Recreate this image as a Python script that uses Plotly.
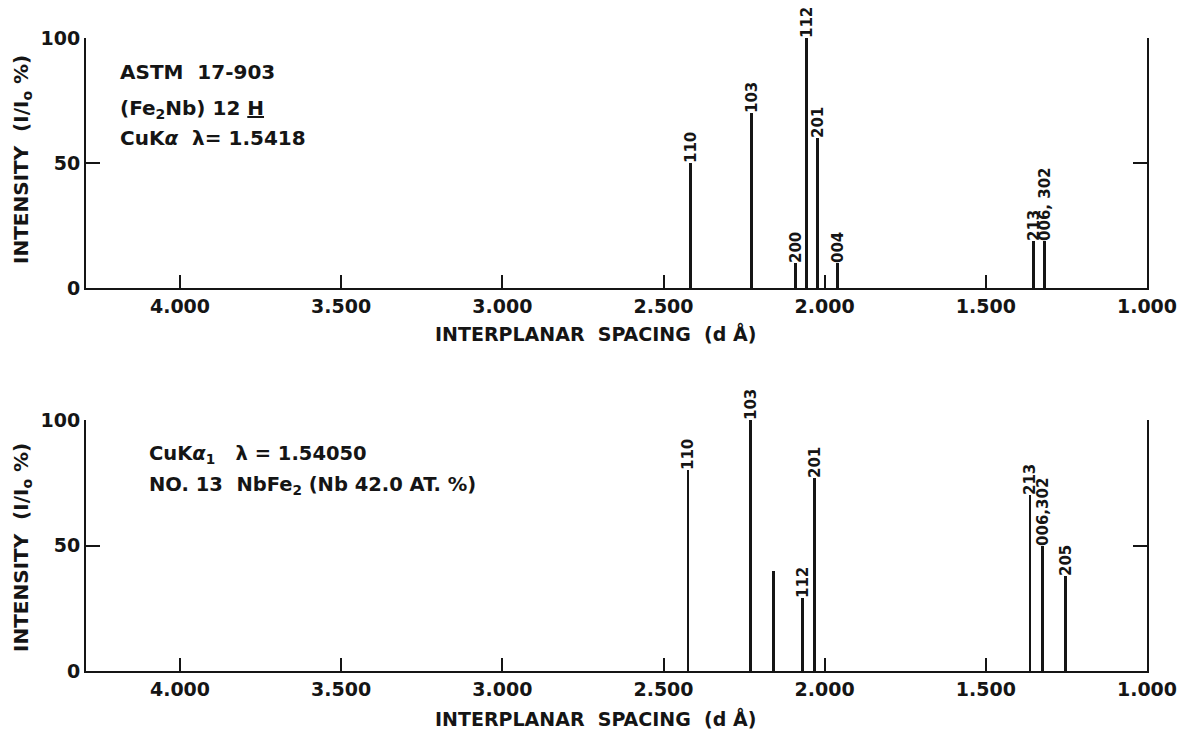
import plotly.graph_objects as go

# ---------------- data ----------------
top_d = [2.416, 2.226, 2.090, 2.056, 2.022, 1.960, 1.353, 1.317]
top_i = [50, 70, 10, 100, 60, 10, 19, 19]
top_lab = ["110", "103", "200", "112", "201", "004", "213", "006, 302"]

bot_d = [2.424, 2.231, 2.160, 2.070, 2.031, 1.363, 1.325, 1.252]
bot_i = [80, 100, 40, 29, 77, 70, 50, 38]
bot_lab = ["110", "103", "", "112", "201", "213", "006,302", "205"]

x_ticks = [4.0, 3.5, 3.0, 2.5, 2.0, 1.5, 1.0]
x_ticktext = ["4.000", "3.500", "3.000", "2.500", "2.000", "1.500", "1.000"]
y_ticks = [0, 50, 100]
y_ticktext = ["0", "50", "100"]

top_notes = ["ASTM  17-903", "(Fe<sub>2</sub>Nb) 12 <u>H</u>", "CuK<i>α</i>  λ= 1.5418"]
bot_notes = ["CuK<i>α</i><sub>1</sub>   λ = 1.54050", "NO. 13  NbFe<sub>2</sub> (Nb 42.0 AT. %)"]

x_title = "INTERPLANAR  SPACING  (d Å)"
y_title = "INTENSITY  (I/I<sub>o</sub> %)"

# ---------------- layout geometry ----------------
W, H = 1180, 733
L, R, T, B = 86, 33, 38, 62
PH = H - T - B
PW = W - L - R


def py(p):
    return (H - B - p) / PH


def px(p):
    return (p - L) / PW


FONT = "DejaVu Sans"
INK = "#151515"


def bold(s):
    return "<b>" + s + "</b>"


fig = go.Figure()
for d, i, lab, xa, ya in [(top_d, top_i, top_lab, "x", "y"), (bot_d, bot_i, bot_lab, "x2", "y2")]:
    fig.add_trace(go.Bar(
        x=d, y=i, text=[bold(s) if s else "" for s in lab], width=0.009,
        marker=dict(color=INK, line=dict(width=0)),
        textposition="outside", textangle=-90, constraintext="none",
        cliponaxis=False, outsidetextfont=dict(family=FONT, size=15, color=INK),
        xaxis=xa, yaxis=ya, showlegend=False, hoverinfo="x+y",
    ))

xax = dict(range=[4.2916, 1.0], tickvals=x_ticks, ticktext=[bold(s) for s in x_ticktext],
           showline=True, linecolor=INK, linewidth=2, ticks="inside", ticklen=13,
           tickwidth=2, tickcolor=INK, showgrid=False, zeroline=False, automargin=False,
           tickfont=dict(family=FONT, size=19, color=INK))
yax = dict(range=[0, 100], tickvals=y_ticks, ticktext=[bold(s) for s in y_ticktext],
           showline=True, linecolor=INK, linewidth=2, ticks="inside", ticklen=14,
           tickwidth=2, tickcolor=INK, showgrid=False, zeroline=False, mirror="ticks",
           automargin=False, tickfont=dict(family=FONT, size=19, color=INK))

fig.update_layout(
    width=W, height=H,
    margin=dict(l=L, r=R, t=T, b=B),
    paper_bgcolor="white", plot_bgcolor="white",
    bargap=0,
    xaxis=dict(xax, domain=[0, 1], anchor="y"),
    yaxis=dict(yax, domain=[py(288), py(38)], anchor="x"),
    xaxis2=dict(xax, domain=[0, 1], anchor="y2"),
    yaxis2=dict(yax, domain=[py(671), py(420)], anchor="x2"),
)

ann = []
for ycen in (333, 718):
    ann.append(dict(text=bold(x_title), x=px(595), y=py(ycen), xref="paper", yref="paper",
                    xanchor="center", yanchor="middle",
                    showarrow=False, font=dict(family=FONT, size=19, color=INK)))
for ycen in (160, 548):
    ann.append(dict(text=bold(y_title), x=px(22), y=py(ycen), xref="paper", yref="paper",
                    xanchor="center", yanchor="middle",
                    textangle=-90, showarrow=False, font=dict(family=FONT, size=20, color=INK)))
for t, yc in zip(top_notes, [72, 109, 138]):
    ann.append(dict(text=bold(t), x=px(118), y=py(yc), xref="paper", yref="paper",
                    xanchor="left", yanchor="middle",
                    showarrow=False, font=dict(family=FONT, size=20, color=INK)))
for t, yc in zip(bot_notes, [454, 485]):
    ann.append(dict(text=bold(t), x=px(147), y=py(yc), xref="paper", yref="paper",
                    xanchor="left", yanchor="middle",
                    showarrow=False, font=dict(family=FONT, size=19.5, color=INK)))
fig.update_layout(annotations=ann)

fig.write_html("out.html")
